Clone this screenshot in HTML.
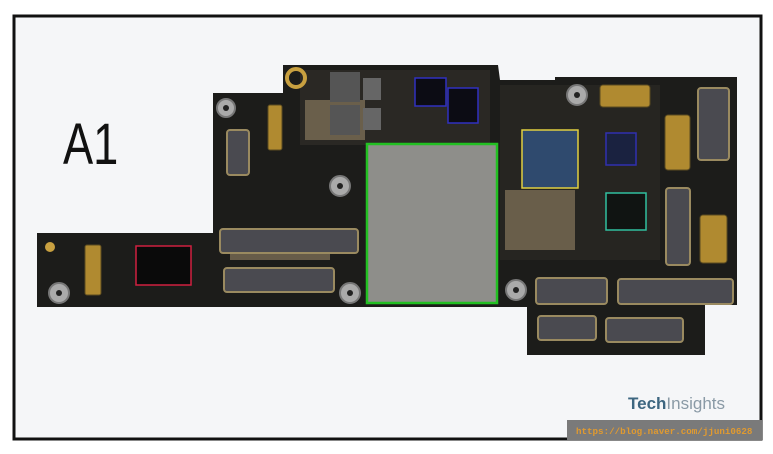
<!DOCTYPE html>
<html><head><style>
html,body{margin:0;padding:0;background:#fff;}
svg{display:block}
</style></head><body>
<svg width="773" height="454" viewBox="0 0 773 454" xmlns="http://www.w3.org/2000/svg">
<rect x="0" y="0" width="773" height="454" fill="#fff"/>
<rect x="14" y="16" width="747" height="423" fill="#f5f6f8" stroke="#111" stroke-width="3"/>
<!-- board -->
<path d="M37,233 L213,233 L213,93 L283,93 L283,65 L498,65 L500,80 L555,80 L555,77 L737,77 L737,305 L705,305 L705,355 L527,355 L527,307 L37,307 Z" fill="#1c1c1a"/>
<rect x="300" y="70" width="190" height="75" fill="#2a2824"/>
<rect x="500" y="85" width="160" height="175" fill="#262521"/>
<g fill="#7a6d55" opacity="0.8">
<rect x="305" y="100" width="60" height="40"/>
<rect x="505" y="190" width="70" height="60"/>
<rect x="230" y="250" width="100" height="10"/>
</g>
<rect x="367" y="144" width="130" height="159" fill="#8e8e8a" stroke="#22c022" stroke-width="2.5"/>
<rect x="522" y="130" width="56" height="58" fill="#2f4a6e" stroke="#e0d040" stroke-width="1.5"/>
<rect x="415" y="78" width="31" height="28" fill="#0c0c14" stroke="#3030c0" stroke-width="1.5"/>
<rect x="448" y="88" width="30" height="35" fill="#0c0c14" stroke="#3030c0" stroke-width="1.5"/>
<rect x="606" y="133" width="30" height="32" fill="#1a2240" stroke="#3030b0" stroke-width="1.5"/>
<rect x="606" y="193" width="40" height="37" fill="#101412" stroke="#30c0a0" stroke-width="1.5"/>
<rect x="136" y="246" width="55" height="39" fill="#0a0a0a" stroke="#d02040" stroke-width="1.5"/>
<rect x="330" y="72" width="30" height="30" fill="#555"/>
<rect x="330" y="105" width="30" height="30" fill="#555"/>
<rect x="363" y="78" width="18" height="22" fill="#666"/>
<rect x="363" y="108" width="18" height="22" fill="#666"/>
<g fill="#4a4a50" stroke="#9a8a60" stroke-width="2">
<rect x="220" y="229" width="138" height="24" rx="3"/>
<rect x="224" y="268" width="110" height="24" rx="3"/>
<rect x="536" y="278" width="71" height="26" rx="3"/>
<rect x="618" y="279" width="115" height="25" rx="3"/>
<rect x="538" y="316" width="58" height="24" rx="3"/>
<rect x="606" y="318" width="77" height="24" rx="3"/>
<rect x="698" y="88" width="31" height="72" rx="3"/>
<rect x="666" y="188" width="24" height="77" rx="3"/>
<rect x="227" y="130" width="22" height="45" rx="3"/>
</g>
<g fill="#b08a30" stroke="#5a4a20" stroke-width="1">
<rect x="665" y="115" width="25" height="55" rx="3"/>
<rect x="700" y="215" width="27" height="48" rx="3"/>
<rect x="600" y="85" width="50" height="22" rx="3"/>
<rect x="85" y="245" width="16" height="50" rx="2"/>
<rect x="268" y="105" width="14" height="45" rx="2"/>
</g>
<g fill="#aaa" stroke="#777" stroke-width="2">
<circle cx="226" cy="108" r="9"/><circle cx="340" cy="186" r="10"/>
<circle cx="350" cy="293" r="10"/><circle cx="59" cy="293" r="10"/>
<circle cx="577" cy="95" r="10"/><circle cx="516" cy="290" r="10"/>
</g>
<g fill="#222"><circle cx="226" cy="108" r="3"/><circle cx="340" cy="186" r="3"/><circle cx="350" cy="293" r="3"/><circle cx="59" cy="293" r="3"/><circle cx="577" cy="95" r="3"/><circle cx="516" cy="290" r="3"/></g>
<circle cx="296" cy="78" r="9" fill="none" stroke="#c8a040" stroke-width="4"/>
<circle cx="50" cy="247" r="5" fill="#c8a040"/>
<text transform="translate(63,164) scale(0.78,1)" font-family="Liberation Sans, sans-serif" font-size="58" fill="#111">A1</text>
<text x="628" y="409" font-family="Liberation Sans, sans-serif" font-size="17" font-weight="bold" fill="#3d6680">Tech<tspan fill="#8a9aa6" font-weight="normal">Insights</tspan></text>
<rect x="567" y="420" width="195" height="20" fill="#7a7a7a"/>
<text x="576" y="434" font-family="Liberation Mono, monospace" font-size="9.2" font-weight="bold" fill="#e09a30">https://blog.naver.com/jjuni0628</text>
</svg>
</body></html>
